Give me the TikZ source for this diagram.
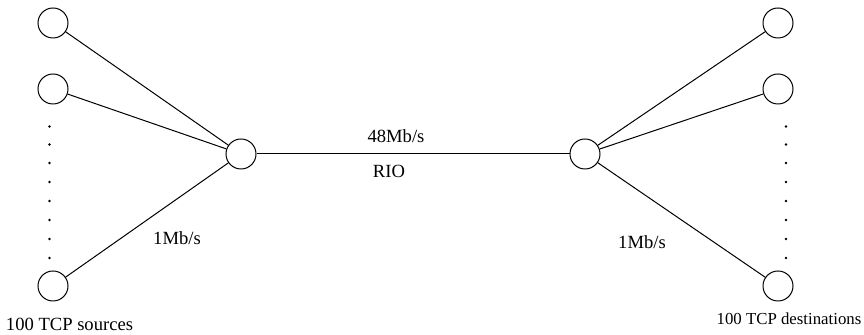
\documentclass[tikz,border=0pt]{standalone}
\usepackage{fontspec}
\setmainfont{Liberation Serif}
\begin{document}
\begin{tikzpicture}[x=0.5pt,y=-0.5pt,
  host/.style={circle,draw,line width=0.5pt,minimum size=15pt,inner sep=0pt},
  link/.style={line width=0.5pt},
  lbl/.style={font=\fontsize{9.3}{11}\selectfont,inner sep=0pt,anchor=base}]
\useasboundingbox (0,0) rectangle (864,335);
% left hosts
\node[host] (s1) at (53,23) {};
\node[host] (s2) at (53,89) {};
\node[host] (s3) at (53,286) {};
% right hosts
\node[host] (d1) at (778,23) {};
\node[host] (d2) at (778,89) {};
\node[host] (d3) at (778,286) {};
% routers
\node[host] (r1) at (241,154) {};
\node[host] (r2) at (585,154) {};
% links
\draw[link] (s1) -- (r1);
\draw[link] (s2) -- (r1);
\draw[link] (s3) -- (r1);
\draw[link] (r1) -- (r2);
\draw[link] (r2) -- (d1);
\draw[link] (r2) -- (d2);
\draw[link] (r2) -- (d3);
% dots
\foreach \y in {126.5,144.5,163,182,201,220,239,258}{
  \fill (49.5,\y) circle (1.4);
  \fill (786,\y) circle (1.4);
}
% labels
\node[lbl] (t1) at (69.5,331) {100 TCP sources};
\node[lbl,font=\fontsize{8.4}{10}\selectfont] (t2) at (789,325) {100 TCP destinations};
\node[lbl] (t3) at (177,245) {1Mb/s};
\node[lbl] (t4) at (642,249) {1Mb/s};
\node[lbl] (t5) at (396,143) {48Mb/s};
\node[lbl] (t6) at (389,178) {RIO};
\end{tikzpicture}
\end{document}
